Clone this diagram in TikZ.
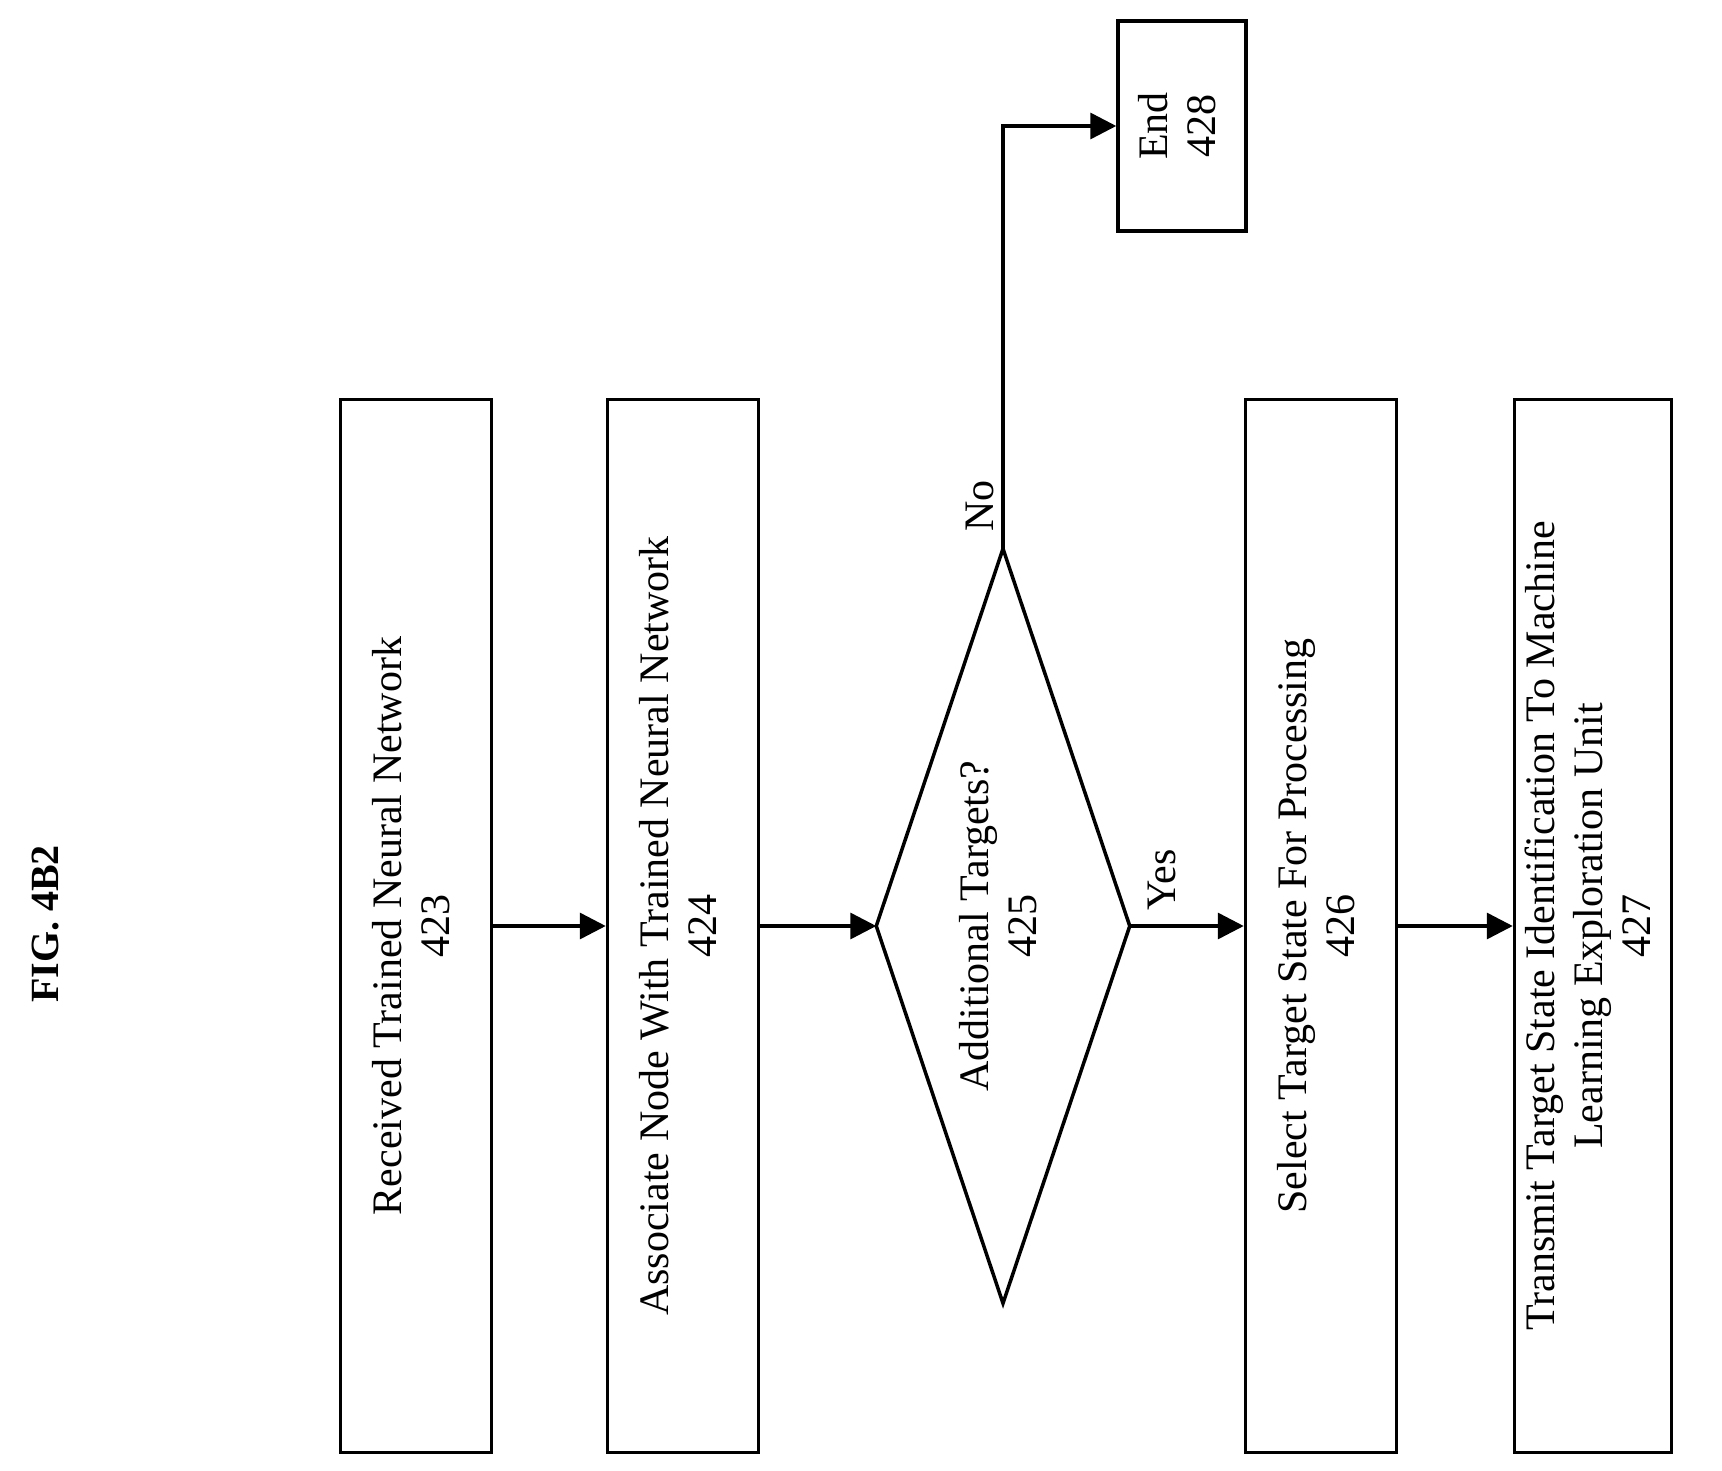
\documentclass[tikz,border=0pt]{standalone}
\usepackage{fontspec}
\setmainfont{Liberation Serif}
\usetikzlibrary{arrows.meta}
\begin{document}
\begin{tikzpicture}[x=1pt,y=-1pt,line width=3.5pt,
  box/.style={draw,rectangle,inner sep=0pt,font=\fontsize{42}{48}\selectfont},
  lbl/.style={font=\fontsize{42}{48}\selectfont,inner sep=0pt},
  arr/.style={-{Triangle[length=26pt,width=26pt]}}]
\useasboundingbox (0,0) rectangle (1722,1471);
\newcommand{\rt}[1]{\rotatebox{90}{\begin{tabular}{@{}c@{}}#1\end{tabular}}}
\node[lbl,font=\fontsize{40}{44}\selectfont\bfseries] (fig) at (46,924) {\rotatebox{90}{FIG. 4B2}};
\node[box,minimum width=151pt,minimum height=1053pt] (b423) at (416,926) {\rt{Received Trained Neural Network\\423}};
\node[box,minimum width=151pt,minimum height=1053pt] (b424) at (683,926) {\rt{Associate Node With Trained Neural Network\\424}};
\node[inner sep=0pt,minimum width=250pt,minimum height=751pt] (d) at (1003,926) {};
\draw (d.north) -- (d.east) -- (d.south) -- (d.west) -- cycle;
\node[lbl] (t425) at (d.center) {\rt{Additional Targets?\\425}};
\node[box,minimum width=151pt,minimum height=1053pt] (b426) at (1321,926) {\rt{Select Target State For Processing\\426}};
\node[box,minimum width=157pt,minimum height=1053pt] (b427) at (1593,926) {\rt{Transmit Target State Identification To Machine\\Learning Exploration Unit\\427}};
\node[box,minimum width=128pt,minimum height=210pt] (b428) at (1182,126) {\rt{End\\428}};
\draw[arr] (b423.east) -- (b424.west);
\draw[arr] (b424.east) -- (d.west);
\draw[arr] (d.east) -- (b426.west);
\draw[arr] (b426.east) -- (b427.west);
\coordinate (c1) at (d.north |- b428.west);
\draw[arr] (d.north) -- (c1) -- (b428.west);
\node[lbl] (no) at (980,506) {\rotatebox{90}{No}};
\node[lbl] (yes) at (1162,880) {\rotatebox{90}{Yes}};
\end{tikzpicture}
\end{document}
